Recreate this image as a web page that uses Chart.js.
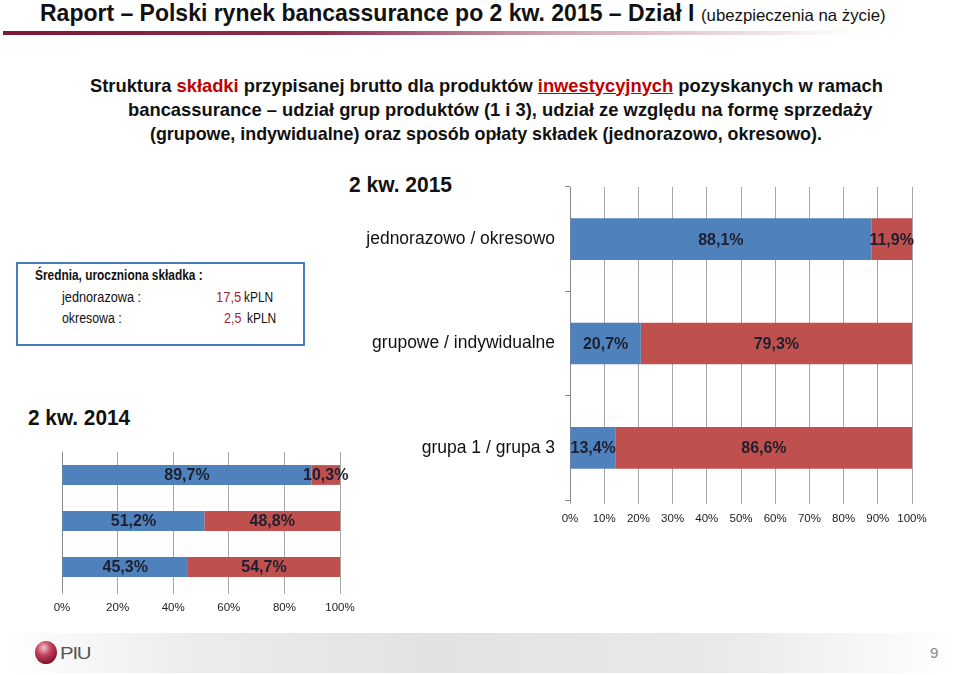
<!DOCTYPE html>
<html>
<head>
  <meta charset="utf-8">
  <title>Raport – Polski rynek bancassurance po 2 kw. 2015</title>
  <script src="https://cdn.jsdelivr.net/npm/chart.js"></script>
  <style>
    body { margin: 0; width: 960px; height: 675px; position: relative; background: #fff; overflow: hidden;
           font-family: "Liberation Sans", Arial, sans-serif; color: #111; }
    .t { position: absolute; white-space: nowrap; line-height: 1; transform-origin: 0 0; }
    .b { font-weight: bold; }
    canvas { position: absolute; }
  </style>
</head>
<body>
  <div class="t b" id="title" style="left:40px; top:0.5px; font-size:24px;">Raport – Polski rynek bancassurance po 2 kw. 2015 – Dział I</div>
  <div class="t" id="title2" style="left:701px; top:7px; font-size:16.5px;">(ubezpieczenia na życie)</div>
  <div style="position:absolute; left:3px; top:31px; width:900px; height:4px;
              background:linear-gradient(to right, #7a1836 0%, #8e2f4c 35%, rgba(160,80,110,0.5) 62%, rgba(255,255,255,0) 95%);"></div>

  <div class="t b" id="sub1" style="left:90px; top:76.5px; font-size:18.5px;">Struktura <span style="color:#c00000">składki</span> przypisanej brutto dla produktów <span style="color:#c00000; text-decoration:underline">inwestycyjnych</span> pozyskanych w ramach</div>
  <div class="t b" id="sub2" style="left:128px; top:100.5px; font-size:18.5px;">bancassurance – udział grup produktów (1 i 3), udział ze względu na formę sprzedaży</div>
  <div class="t b" id="sub3" style="left:150px; top:124.5px; font-size:18.5px;">(grupowe, indywidualne) oraz sposób opłaty składek (jednorazowo, okresowo).</div>

  <div class="t b" id="h15" style="left:349px; top:174px; font-size:22px;">2 kw. 2015</div>
  <div class="t b" id="h14" style="left:28px; top:407px; font-size:22px;">2 kw. 2014</div>

  <div style="position:absolute; left:16px; top:262px; width:285px; height:80px; border:2px solid #4a7ebb;"></div>
  <div class="t b" id="bx1" style="left:35px; top:268px; font-size:14px;">Średnia, uroczniona składka :</div>
  <div class="t" id="bx2" style="left:62px; top:290px; font-size:14px;">jednorazowa :</div>
  <div class="t" id="bx3" style="left:216px; top:290px; font-size:14px; color:#a1262f;">17,5</div>
  <div class="t" id="bx4" style="left:244px; top:290px; font-size:14px;">kPLN</div>
  <div class="t" id="bx5" style="left:62px; top:311px; font-size:14px;">okresowa :</div>
  <div class="t" id="bx6" style="left:224px; top:311px; font-size:14px; color:#a1262f;">2,5</div>
  <div class="t" id="bx7" style="left:247px; top:311px; font-size:14px;">kPLN</div>

  <canvas id="c15" width="580" height="350" style="left:355px; top:180px;"></canvas>
  <canvas id="c14" width="360" height="183" style="left:15px; top:442px;"></canvas>

  <div style="position:absolute; left:0; top:633px; width:960px; height:40px;
              background:linear-gradient(to right, #ffffff 0%, #ececec 20%, #e2e2e2 45%, #e9e9e9 75%, #ffffff 100%);"></div>
  <div style="position:absolute; left:35px; top:641px; width:22px; height:23px; border-radius:50%;
              background:radial-gradient(circle at 40% 30%, #f2c6cf 0%, #c4435f 35%, #8c1734 70%, #6d0f27 100%);"></div>
  <div class="t" id="logo" style="left:60px; top:645px; font-size:17px; color:#555; letter-spacing:-1px;">PIU</div>
  <div class="t" style="left:930px; top:645px; font-size:15px; color:#8a8a8a;">9</div>

  <script>
    // kategorie (kolejność słupków z góry na dół)
    var categories = ['jednorazowo / okresowo', 'grupowe / indywidualne', 'grupa 1 / grupa 3'];

    // 2 kw. 2015 – udział w %
    var share2015First  = [88.1, 20.7, 13.4];
    var share2015Second = [11.9, 79.3, 86.6];

    // 2 kw. 2014 – udział w %
    var share2014First  = [89.7, 51.2, 45.3];
    var share2014Second = [10.3, 48.8, 54.7];

    var blue = '#4f81bd';
    var red = '#c0504d';
    var gridColor = '#a6a6a6';
    var fontFamily = '"Liberation Sans", Arial, sans-serif';

    // dopasowanie szerokości tekstów do oryginału
    function fit(id, w) {
      var el = document.getElementById(id);
      el.style.transform = 'scaleX(' + (w / el.offsetWidth) + ')';
    }
    fit('title', 654); fit('title2', 185);
    fit('sub1', 793); fit('sub2', 744); fit('sub3', 672);
    fit('h15', 103); fit('h14', 102);
    fit('bx1', 168); fit('bx2', 79); fit('bx3', 25); fit('bx4', 29);
    fit('bx5', 60); fit('bx6', 17); fit('bx7', 29);
    fit('logo', 30);

    // etykiety z wartościami na środku segmentów
    var barLabels = {
      id: 'barLabels',
      afterDatasetsDraw: function(chart) {
        var c = chart.ctx;
        c.save();
        c.font = 'bold 16px ' + fontFamily;
        c.fillStyle = '#1c2030';
        c.textAlign = 'center';
        c.textBaseline = 'middle';
        chart.data.datasets.forEach(function(ds, i) {
          chart.getDatasetMeta(i).data.forEach(function(bar, j) {
            var txt = ds.data[j].toFixed(1).replace('.', ',') + '%';
            c.fillText(txt, (bar.x + bar.base) / 2, bar.y + 1);
          });
        });
        c.restore();
      }
    };

    function makeChart(id, first, second, opt) {
      return new Chart(document.getElementById(id).getContext('2d'), {
        type: 'bar',
        data: {
          labels: categories,
          datasets: [
            { data: first, backgroundColor: blue, barPercentage: opt.barPct, categoryPercentage: 1 },
            { data: second, backgroundColor: red, barPercentage: opt.barPct, categoryPercentage: 1 }
          ]
        },
        options: {
          indexAxis: 'y',
          responsive: false,
          animation: false,
          layout: { padding: { top: opt.padTop, right: opt.padRight, left: 0, bottom: 0 } },
          plugins: { legend: { display: false }, tooltip: { enabled: false } },
          scales: {
            x: {
              stacked: true, min: 0, max: 100,
              border: { display: false },
              grid: { color: gridColor, tickLength: 4 },
              ticks: { stepSize: opt.step, padding: opt.tickPad, color: '#222',
                       maxRotation: 0, minRotation: 0, autoSkip: false,
                       font: { family: fontFamily, size: 11.5 },
                       callback: function(v) { return v + '%'; } },
              afterFit: function(s) { s.height = opt.xHeight; s.paddingLeft = 0; s.paddingRight = 0; }
            },
            y: {
              stacked: true,
              border: { color: '#868686' },
              grid: { offset: true, drawOnChartArea: false, drawTicks: opt.showLabels, tickLength: 5, color: '#868686' },
              ticks: { display: opt.showLabels, padding: 10, color: '#111',
                       font: { family: fontFamily, size: 17.5 } },
              afterFit: function(s) { s.width = opt.yWidth; s.paddingTop = 0; s.paddingBottom = 0; }
            }
          }
        },
        plugins: [barLabels]
      });
    }

    makeChart('c15', share2015First, share2015Second,
      { barPct: 0.4, padTop: 7, padRight: 23, step: 10, tickPad: 8, xHeight: 30, yWidth: 215, showLabels: true });
    makeChart('c14', share2014First, share2014Second,
      { barPct: 0.43, padTop: 10, padRight: 35, step: 20, tickPad: 7, xHeight: 35, yWidth: 47, showLabels: false });
  </script>
</body>
</html>
